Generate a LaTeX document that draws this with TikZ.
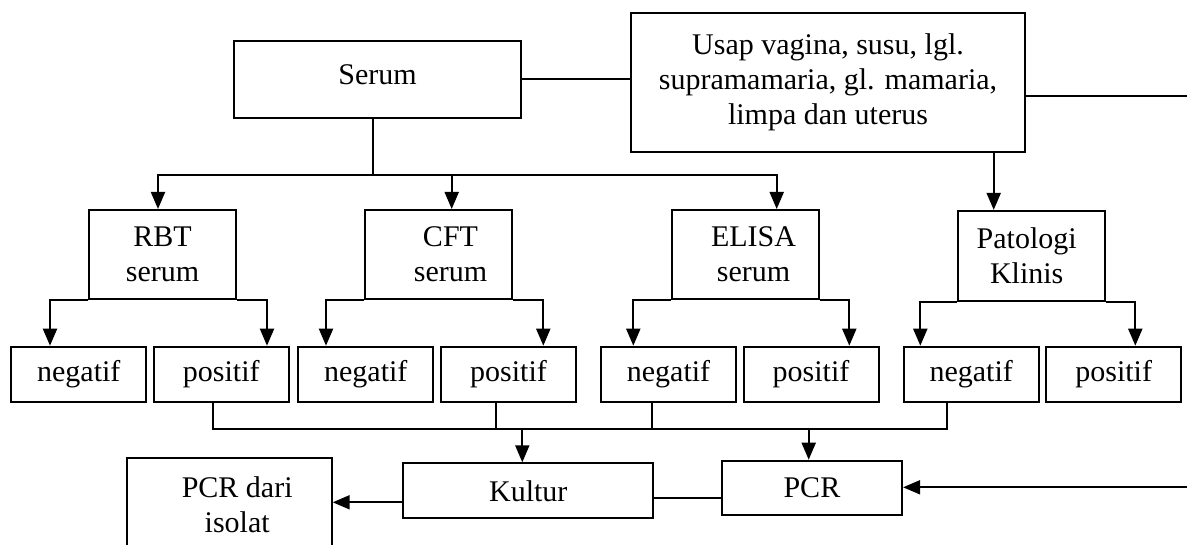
\documentclass[tikz,border=0pt]{standalone}
\usepackage{fontspec}
\setmainfont{Liberation Serif}
\usepackage{tikz}
\usetikzlibrary{arrows.meta}
\tikzstyle{box}=[rectangle,draw=black,line width=1pt,inner sep=0pt,align=center,
font=\fontsize{15pt}{17.5pt}\selectfont]
\tikzstyle{test}=[box,minimum width=73.5pt,minimum height=44.5pt]
\tikzstyle{result}=[box,minimum width=67.5pt,minimum height=27.8pt]
\tikzstyle{line}=[line width=1pt]
\tikzstyle{arrow}=[line width=1pt,-{Triangle[length=8.5pt,width=7pt]}]

\begin{document}
\begin{tikzpicture}[x=0.5pt,y=-0.5pt]
        \useasboundingbox (0,0) rectangle (1187,545);

        \node (serum) [box,minimum width=143.5pt,minimum height=38.5pt] at (377.5,79.5) {\raisebox{5pt}{Serum}};
        \node (usap) [box,minimum width=197pt,minimum height=69.5pt] at (828,82.5) {\raisebox{2.5pt}{\begin{tabular}{@{}c@{}}Usap vagina, susu, lgl.\\supramamaria, gl. mamaria,\\limpa dan uterus\end{tabular}}};
        \node (rbt) [test] at (162.5,254.5) {RBT\\serum};
        \node (cft) [test] at (438.5,254.5) {\hspace*{12pt}CFT\\\hspace*{12pt}serum};
        \node (elisa) [test] at (745.5,254.5) {\hspace*{8pt}ELISA\\\hspace*{8pt}serum};
        \node (pato) [test,minimum height=45pt] at (1031.7,255.9) {Patologi\hspace*{5pt}\\Klinis\hspace*{5pt}};

        \node (neg1) [result] at (78.8,374.5) {negatif};
        \node (pos1) [result] at (221.3,374.5) {positif};
        \node (neg2) [result] at (365.8,374.5) {negatif};
        \node (pos2) [result] at (508.5,374.5) {positif};
        \node (neg3) [result] at (668.5,374.5) {negatif};
        \node (pos3) [result] at (811,374.5) {positif};
        \node (neg4) [result] at (971.2,374.5) {negatif};
        \node (pos4) [result] at (1113.7,374.5) {positif};

        \node (kultur) [box,minimum width=125pt,minimum height=27.5pt] at (528.3,490.8) {Kultur};
        \node (pcr) [box,minimum width=90.2pt,minimum height=27.2pt] at (811.9,487.9) {PCR};
        \node (isolat) [box,minimum width=102.5pt,minimum height=47pt] at (229.2,504.7) {\hspace*{8pt}PCR dari\\\hspace*{8pt}isolat};

        \coordinate (hub) at (373,175);
        \coordinate (bus) at (540,429.3);
        \coordinate (rtop) at (1200,96);
        \coordinate (rbot) at (1200,487.3);
        \coordinate (pk) at ([xshift=-19pt]pato.north);
        \coordinate (kin) at ([xshift=-3pt]kultur.north);
        \coordinate (pin) at ([xshift=-1.6pt]pcr.north);
        \coordinate (kp) at ([yshift=-3.45pt]kultur.east);
        \coordinate (ki) at ([yshift=-5.75pt]kultur.west);

        \draw [line] (serum.east) -- (serum.east -| usap.west);
        \draw [line] (hub |- serum.south) -- (hub);
        \draw [arrow] (hub) -| ([xshift=-2.25pt]rbt.north);
        \draw [arrow] (hub) -| ([xshift=6.6pt]cft.north);
        \draw [arrow] (hub) -| ([xshift=15.6pt]elisa.north);
        \draw [arrow] (pk |- usap.south) -- (pk);
        \draw [arrow] (rtop -| usap.east) -- (rtop) -- (rbot) -- (rbot -| pcr.east);

        \draw [arrow] (rbt.south west) -| ([xshift=-14.4pt]neg1.north);
        \draw [arrow] (rbt.south east) -| ([xshift=22.85pt]pos1.north);
        \draw [arrow] (cft.south west) -| ([xshift=-19.9pt]neg2.north);
        \draw [arrow] (cft.south east) -| ([xshift=17.4pt]pos2.north);
        \draw [arrow] (elisa.south west) -| ([xshift=-17.6pt]neg3.north);
        \draw [arrow] (elisa.south east) -| ([xshift=19.15pt]pos3.north);
        \draw [arrow] (pato.south west) -| ([xshift=-25.45pt]neg4.north);
        \draw [arrow] (pato.south east) -| ([xshift=10.8pt]pos4.north);

        \draw [line] ([xshift=-4pt]pos1.south) |- (bus) -| ([xshift=-12.1pt]neg4.south);
        \draw [line] ([xshift=-6.4pt]pos2.south) -- ++(0,27);
        \draw [line] ([xshift=-8.4pt]neg3.south) -- ++(0,27);
        \draw [arrow] (bus -| kin) -- (kin);
        \draw [arrow] (bus -| pin) -- (pin);

        \draw [line] (kp) -- (kp -| pcr.west);
        \draw [arrow] (ki) -- (ki -| isolat.east);

    \end{tikzpicture}
\end{document}
